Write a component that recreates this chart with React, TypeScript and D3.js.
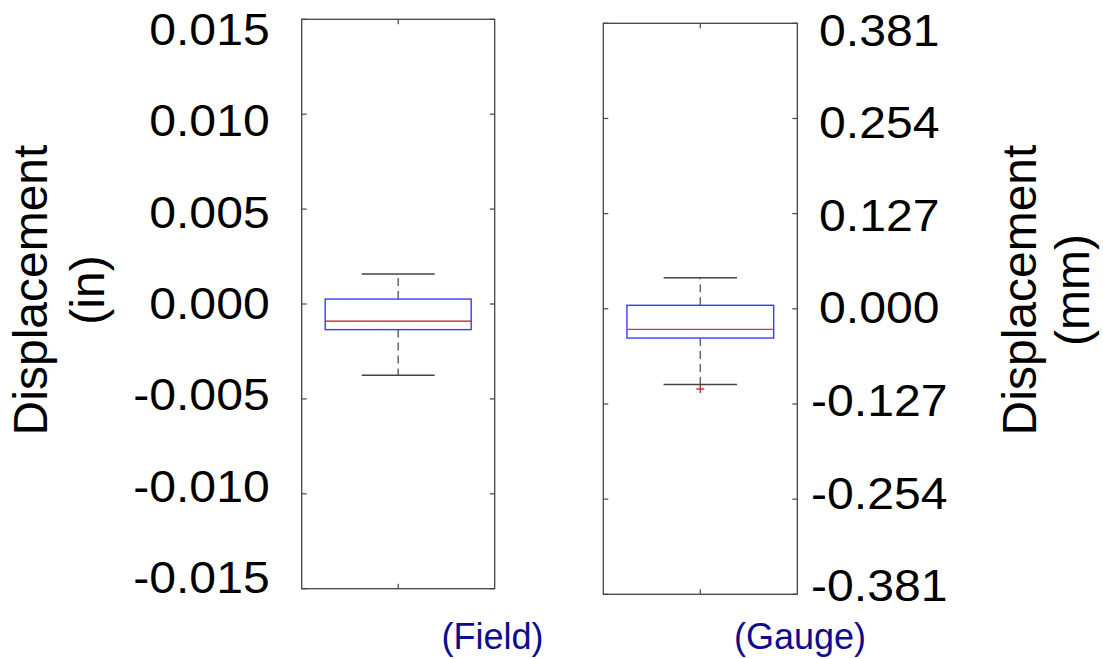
import React from "react";
import * as d3 from "d3";

// ---- data ----
const categories = ["(Field)", "(Gauge)"];
const axisTitles = ["Displacement", "Displacement"];
const axisUnits = ["(in)", "(mm)"];

// box statistics: [whiskerLow, q1, median, q3, whiskerHigh]
const fieldStats = [-0.00376, -0.00135, -0.0009, 0.00026, 0.00158];
const fieldOutliers: number[] = [];
const gaugeStats = [-0.1009, -0.039, -0.0275, 0.0047, 0.0416];
const gaugeOutliers = [-0.107];

const fieldTicks = [-0.015, -0.01, -0.005, 0, 0.005, 0.01, 0.015];
const fieldTickLabels = ["-0.015", "-0.010", "-0.005", "0.000", "0.005", "0.010", "0.015"];
const gaugeTicks = [-0.381, -0.254, -0.127, 0, 0.127, 0.254, 0.381];
const gaugeTickLabels = ["-0.381", "-0.254", "-0.127", "0.000", "0.127", "0.254", "0.381"];

const FONT = "'Liberation Sans', Arial, Helvetica, sans-serif";

type PanelProps = {
  cat: string;
  stats: number[];
  outliers: number[];
  ticks: number[];
  tickLabels: string[];
  x0: number;
  x1: number;
  y0: number;
  y1: number;
  labelRange: [number, number];
  labelSide: "left" | "right";
  medianColor: string;
};

function Panel(p: PanelProps) {
  const dom: [number, number] = [p.ticks[0], p.ticks[p.ticks.length - 1]];
  const y = d3.scaleLinear().domain(dom).range([p.y1, p.y0]);
  const yLab = d3.scaleLinear().domain(dom).range(p.labelRange);
  const x = d3.scaleBand<string>().domain([p.cat]).range([p.x0, p.x1]).padding(0.1387);
  const bx = x(p.cat)!;
  const bw = x.bandwidth();
  const cx = bx + bw / 2;
  const capHalf = bw / 4;
  const [wl, q1, med, q3, wh] = p.stats;
  const frame = "#454545";
  const tl = 5;
  const lx = p.labelSide === "left" ? p.x0 - 32 : p.x1 + 82;
  return (
    <g>
      <rect x={p.x0} y={p.y0} width={p.x1 - p.x0} height={p.y1 - p.y0} fill="#fff" stroke={frame} strokeWidth={1.3} />
      {p.ticks.map((t, i) => (
        <g key={i}>
          <line x1={p.x0} x2={p.x0 + tl} y1={y(t)} y2={y(t)} stroke={frame} strokeWidth={1.2} />
          <line x1={p.x1} x2={p.x1 - tl} y1={y(t)} y2={y(t)} stroke={frame} strokeWidth={1.2} />
          <text
            transform={`translate(${lx},${yLab(t)}) scale(1.07,1)`}
            dy="0.36em"
            textAnchor={p.labelSide === "left" ? "end" : "middle"}
            fontFamily={FONT}
            fontSize={45}
            fill="#000"
          >
            {p.tickLabels[i]}
          </text>
        </g>
      ))}
      <line x1={cx} x2={cx} y1={p.y0} y2={p.y0 + tl} stroke={frame} strokeWidth={1.2} />
      <line x1={cx} x2={cx} y1={p.y1} y2={p.y1 - tl} stroke={frame} strokeWidth={1.2} />
      {/* whiskers */}
      <line x1={cx} x2={cx} y1={y(q3)} y2={y(wh)} stroke="#666" strokeWidth={1.5} strokeDasharray="8,5" />
      <line x1={cx} x2={cx} y1={y(q1)} y2={y(wl)} stroke="#666" strokeWidth={1.5} strokeDasharray="8,5" />
      <line x1={cx - capHalf} x2={cx + capHalf} y1={y(wh)} y2={y(wh)} stroke="#444" strokeWidth={1.5} />
      <line x1={cx - capHalf} x2={cx + capHalf} y1={y(wl)} y2={y(wl)} stroke="#444" strokeWidth={1.5} />
      {/* box */}
      <rect x={bx} y={y(q3)} width={bw} height={y(q1) - y(q3)} fill="none" stroke="#3a3aff" strokeWidth={1.4} />
      <line x1={bx} x2={bx + bw} y1={y(med)} y2={y(med)} stroke={p.medianColor} strokeWidth={1.4} />
      {p.outliers.map((o, i) => (
        <g key={i} stroke="#d01818" strokeWidth={1.3}>
          <line x1={cx - 4} x2={cx + 4} y1={y(o)} y2={y(o)} />
          <line x1={cx} x2={cx} y1={y(o) - 4} y2={y(o) + 4} />
        </g>
      ))}
    </g>
  );
}

function YTitle({ x, y, title, unit, gap }: { x: number; y: number; title: string; unit: string; gap: number }) {
  return (
    <g transform={`translate(${x},${y}) rotate(-90)`}>
      <text x={0} y={0} textAnchor="middle" fontFamily={FONT} fontSize={48} fill="#000">
        {title}
      </text>
      <text x={0} y={gap} textAnchor="middle" fontFamily={FONT} fontSize={48} fill="#000">
        {unit}
      </text>
    </g>
  );
}

export default function App() {
  return (
    <svg
      width={1103}
      height={659}
      viewBox="0 0 1103 659"
      style={{ position: "absolute", left: 0, top: 0, background: "#fff" }}
    >
      <rect x={0} y={0} width={1103} height={659} fill="#fff" />
      <Panel
        cat={categories[0]}
        stats={fieldStats}
        outliers={fieldOutliers}
        ticks={fieldTicks}
        tickLabels={fieldTickLabels}
        x0={301.7}
        x1={494.7}
        y0={19.3}
        y1={588.7}
        labelRange={[577, 28.7]}
        labelSide="left"
        medianColor="#c81010"
      />
      <Panel
        cat={categories[1]}
        stats={gaugeStats}
        outliers={gaugeOutliers}
        ticks={gaugeTicks}
        tickLabels={gaugeTickLabels}
        x0={603.3}
        x1={797.3}
        y0={23.3}
        y1={594.3}
        labelRange={[585, 29.5]}
        labelSide="right"
        medianColor="#f03030"
      />
      <YTitle x={47} y={290} title={axisTitles[0]} unit={axisUnits[0]} gap={57} />
      <YTitle x={1036} y={290} title={axisTitles[1]} unit={axisUnits[1]} gap={53} />
      <text x={492.5} y={649} textAnchor="middle" fontFamily={FONT} fontSize={36} fill="#0c0c8c">
        {categories[0]}
      </text>
      <text x={800} y={649} textAnchor="middle" fontFamily={FONT} fontSize={36} fill="#0c0c8c">
        {categories[1]}
      </text>
    </svg>
  );
}
